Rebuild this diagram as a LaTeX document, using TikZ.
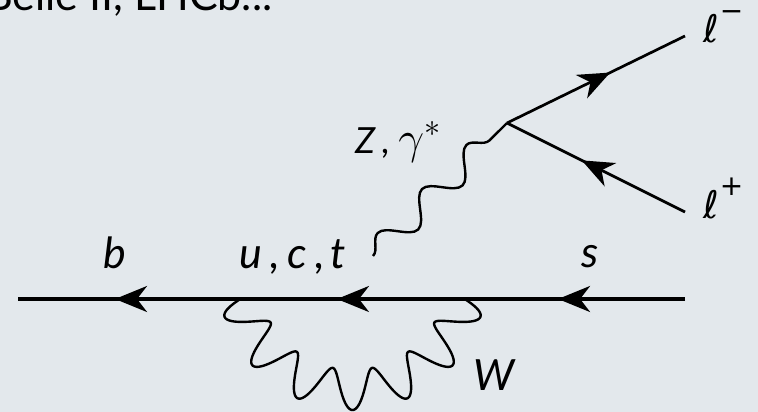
\RequirePackage{fix-cm}
\documentclass[tikz,border=0pt]{standalone}
\usepackage{fontspec}
\setmainfont{Lato}
\newfontfamily\dejavu{DejaVu Sans}
\usetikzlibrary{arrows.meta,decorations.pathmorphing,decorations.markings}
\definecolor{bg}{RGB}{227,232,236}
\tikzset{
  fermion/.style={line width=3.2pt, postaction={decorate},
    decoration={markings, mark=at position #1 with {\arrow{Stealth[length=32pt,width=26pt,inset=10pt]}}}},
  photon/.style={line width=2.4pt, decorate, decoration={snake, amplitude=13pt, segment length=62.5pt}},
  wboson/.style={line width=2.4pt},
  lbl/.style={inner sep=0pt, font=\fontsize{43}{50}\selectfont},
  slbl/.style={inner sep=0pt, font=\fontsize{36}{42}\selectfont},
  llbl/.style={inner sep=0pt, font=\dejavu\fontsize{38}{44}\selectfont},
}
\newcommand{\supsym}[2]{\hspace{1pt}\raisebox{#1}{\fontsize{28}{30}\selectfont #2}}
\begin{document}
\begin{tikzpicture}[x=1pt,y=-1pt]
\fill[bg] (0,0) rectangle (758,412);
\useasboundingbox (0,0) rectangle (758,412);
\clip (0,0) rectangle (758,412);
% vertices
\coordinate (fR) at (685,299);
\coordinate (vR) at (465,299);
\coordinate (vL) at (240,299);
\coordinate (fL) at (18,299);
\coordinate (g1) at (373,256);
\coordinate (lv) at (507,123);
\coordinate (lm) at (685,36);
\coordinate (lp) at (685,212);
% title
\node[lbl, anchor=base west] (title) at (-15,11) {Belle II, LHCb...};
% fermion line
\draw[fermion=0.577] (fR) -- (vR);
\draw[fermion=0.569] (vR) -- (vL);
\draw[fermion=0.563] (vL) -- (fL);
% leptons
\draw[fermion=0.58, line width=2.7pt] (lv) -- (lm);
\draw[fermion=0.58, line width=2.7pt] (lp) -- (lv);
% photon
\draw[photon] (g1) -- (lv);
% W loop (from vL to vR)
\draw[wboson] plot[domain=168.25:11.75, samples=500, smooth, variable=\t]
  ({352.5+(114.4+20*sin(14.952*(168.25-\t)))*cos(\t)},
   {275.6+(114.4+20*sin(14.952*(168.25-\t)))*sin(\t)});
% labels
\node[lbl, anchor=base] (lb) at (115,268) {\itshape b};
\node[lbl, anchor=base west] (luct) at (239,268) {\itshape u\hspace{9pt},\hspace{7pt}c\hspace{8pt},\hspace{6pt}t};
\node[lbl, anchor=base] (ls) at (590,267) {\itshape s};
\node[slbl, anchor=base west] (lz) at (355,153) {\itshape Z\hspace{7pt},\hspace{8pt}{\fontsize{46}{50}\selectfont$\gamma^*$}};
\node[lbl, anchor=base west] (lw) at (473,390) {\itshape W};
\node[llbl, anchor=base west] (lem) at (703,43) {\itshape ℓ\supsym{22pt}{−}};
\node[llbl, anchor=base west] (lep) at (703,218) {\itshape ℓ\supsym{23pt}{+}};
\end{tikzpicture}
\end{document}
